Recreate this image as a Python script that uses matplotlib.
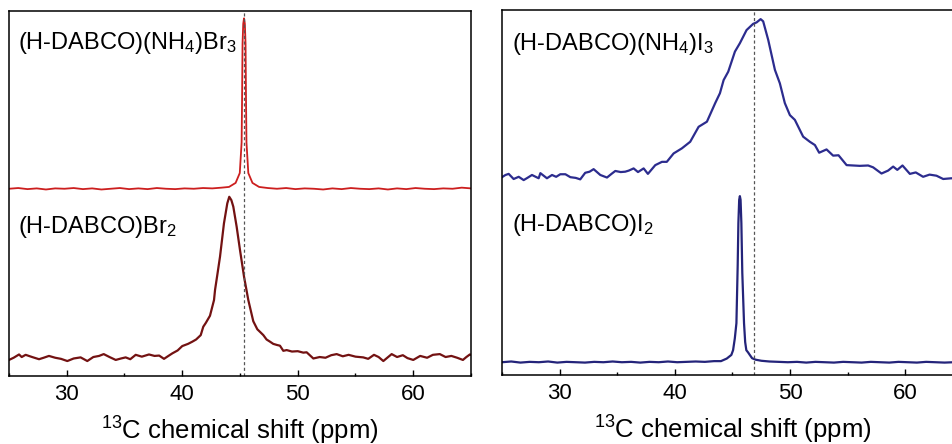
import matplotlib
matplotlib.use("Agg")
import matplotlib.pyplot as plt
from matplotlib.ticker import MultipleLocator

plt.rcParams["font.family"] = ["Liberation Sans", "DejaVu Sans"]
plt.rcParams["mathtext.fontset"] = "custom"
plt.rcParams["mathtext.rm"] = "Liberation Sans"
plt.rcParams["mathtext.it"] = "Liberation Sans"

# --- data (ppm, normalised intensity) ---
# (H-DABCO)(NH4)Br3
br3_x = [25.0, 25.8, 26.6, 27.4, 28.2, 29.0, 29.8, 30.6, 31.4, 32.2, 33.0, 33.8,
         34.6, 35.4, 36.2, 37.0, 37.8, 38.6, 39.4, 40.2, 41.0, 41.8, 42.6, 43.4,
         44.05, 44.62, 44.98, 45.14, 45.18, 45.22, 45.28, 45.35, 45.42, 45.48,
         45.52, 45.56, 45.72, 46.08, 46.65, 47.4, 48.2, 49.0, 49.8, 50.6, 51.4,
         52.2, 53.0, 53.8, 54.6, 55.4, 56.2, 57.0, 57.8, 58.6, 59.4, 60.2, 61.0,
         61.8, 62.6, 63.4, 64.2, 65.0]
br3_y = [0.513, 0.515, 0.512, 0.514, 0.511, 0.514, 0.513, 0.515, 0.512, 0.514,
         0.511, 0.513, 0.515, 0.512, 0.514, 0.512, 0.515, 0.513, 0.512, 0.514,
         0.513, 0.515, 0.514, 0.516, 0.518, 0.529, 0.556, 0.64, 0.76, 0.91,
         0.965, 0.98, 0.965, 0.91, 0.76, 0.64, 0.556, 0.529, 0.518, 0.515,
         0.513, 0.515, 0.512, 0.514, 0.513, 0.511, 0.514, 0.512, 0.515, 0.513,
         0.512, 0.514, 0.511, 0.514, 0.512, 0.515, 0.513, 0.512, 0.514, 0.513,
         0.516, 0.514]

# (H-DABCO)Br2
br2_x = [25.0, 25.4, 25.87, 26.1, 26.44, 27.0, 27.6, 28.0, 28.46, 29.0, 29.5,
         30.05, 30.6, 31.2, 31.78, 32.3, 32.8, 33.2, 33.7, 34.24, 34.7, 35.1,
         35.5, 35.97, 36.5, 37.12, 37.6, 38.0, 38.42, 38.8, 39.14, 39.6, 40.0,
         40.5, 40.87, 41.2, 41.6, 41.82, 42.03, 42.4, 42.75, 42.84, 43.05, 43.27,
         43.45, 43.61, 43.9, 44.07, 44.25, 44.42, 44.71, 45.0, 45.35, 45.72,
         46.15, 46.5, 46.73, 47.02, 47.3, 47.6, 47.88, 48.2, 48.46, 48.75, 49.04,
         49.5, 50.0, 50.48, 50.77, 51.35, 51.9, 52.4, 52.9, 53.37, 53.9, 54.4,
         55.0, 55.67, 56.1, 56.6, 57.0, 57.41, 58.13, 58.6, 59.1, 59.5, 60.0,
         60.6, 61.2, 61.7, 62.3, 62.8, 63.3, 63.8, 64.3, 64.6, 64.9, 65.0]
br2_y = [0.044, 0.050, 0.059, 0.052, 0.058, 0.052, 0.046, 0.050, 0.055, 0.050,
         0.047, 0.041, 0.048, 0.051, 0.041, 0.052, 0.055, 0.060, 0.052, 0.044,
         0.048, 0.051, 0.046, 0.058, 0.053, 0.059, 0.055, 0.056, 0.047, 0.055,
         0.062, 0.070, 0.082, 0.088, 0.094, 0.100, 0.112, 0.135, 0.145, 0.165,
         0.208, 0.236, 0.280, 0.327, 0.375, 0.418, 0.473, 0.491, 0.482, 0.464,
         0.409, 0.345, 0.272, 0.208, 0.150, 0.128, 0.121, 0.112, 0.100, 0.094,
         0.088, 0.085, 0.083, 0.069, 0.071, 0.067, 0.068, 0.064, 0.065, 0.048,
         0.052, 0.050, 0.057, 0.060, 0.054, 0.058, 0.053, 0.051, 0.047, 0.058,
         0.052, 0.041, 0.060, 0.052, 0.057, 0.049, 0.044, 0.055, 0.050, 0.058,
         0.060, 0.052, 0.055, 0.050, 0.044, 0.052, 0.059, 0.058]

# (H-DABCO)(NH4)I3
i3_x = [25.0, 25.3, 25.58, 26.01, 26.45, 26.88, 27.2, 27.6, 28.18, 28.33, 28.9,
        29.34, 29.7, 30.06, 30.5, 30.93, 31.4, 31.79, 32.22, 32.6, 32.95, 33.53,
        34.11, 34.5, 34.83, 35.3, 35.69, 36.0, 36.42, 36.8, 37.29, 37.66, 38.3,
        38.88, 39.3, 39.89, 40.61, 41.33, 42.06, 42.78, 43.5, 43.91, 44.23, 44.63,
        45.21, 45.64, 46.22, 46.79, 47.09, 47.44, 47.66, 48.1, 48.68, 49.11,
        49.54, 49.98, 50.41, 51.13, 51.71, 52.15, 52.52, 53.16, 53.73, 54.2,
        54.9, 56.05, 56.77, 57.2, 57.93, 58.5, 58.94, 59.3, 59.75, 60.39, 60.9,
        61.54, 62.1, 62.7, 63.28, 64.0, 64.5, 65.0]
i3_y = [0.542, 0.548, 0.551, 0.537, 0.543, 0.534, 0.540, 0.548, 0.539, 0.553,
        0.539, 0.548, 0.543, 0.550, 0.550, 0.542, 0.540, 0.536, 0.554, 0.557,
        0.564, 0.548, 0.541, 0.551, 0.559, 0.556, 0.557, 0.560, 0.566, 0.556,
        0.566, 0.551, 0.575, 0.584, 0.584, 0.607, 0.621, 0.639, 0.680, 0.694,
        0.745, 0.772, 0.808, 0.831, 0.886, 0.909, 0.945, 0.962, 0.966, 0.975,
        0.969, 0.918, 0.836, 0.799, 0.745, 0.712, 0.699, 0.653, 0.639, 0.630,
        0.609, 0.618, 0.601, 0.602, 0.575, 0.573, 0.574, 0.569, 0.552, 0.560,
        0.571, 0.562, 0.574, 0.551, 0.555, 0.543, 0.549, 0.546, 0.537, 0.539,
        0.536, 0.540]

# (H-DABCO)I2
i2_x = [25.0, 25.8, 26.6, 27.4, 28.2, 29.0, 29.8, 30.6, 31.4, 32.2, 33.0, 33.8,
        34.6, 35.4, 36.2, 37.0, 37.8, 38.6, 39.4, 40.2, 41.0, 41.8, 42.6, 43.4,
        44.0, 44.5, 44.9, 45.05, 45.2, 45.34, 45.45, 45.51, 45.58, 45.64, 45.7,
        45.77, 45.85, 46.0, 46.1, 46.2, 46.35, 46.5, 46.7, 47.0, 47.5, 48.2,
        49.0, 49.8, 50.6, 51.4, 52.2, 53.0, 53.8, 54.6, 55.4, 56.2, 57.0, 57.8,
        58.6, 59.4, 60.2, 61.0, 61.8, 62.6, 63.4, 64.2, 65.0]
i2_y = [0.035, 0.037, 0.034, 0.036, 0.035, 0.037, 0.034, 0.036, 0.035, 0.034,
        0.036, 0.035, 0.037, 0.035, 0.036, 0.034, 0.036, 0.035, 0.037, 0.035,
        0.036, 0.037, 0.036, 0.038, 0.038, 0.045, 0.055, 0.068, 0.100, 0.142,
        0.300, 0.416, 0.480, 0.490, 0.480, 0.416, 0.280, 0.142, 0.090, 0.068,
        0.062, 0.055, 0.046, 0.042, 0.039, 0.037, 0.036, 0.035, 0.036, 0.034,
        0.036, 0.035, 0.034, 0.036, 0.035, 0.034, 0.036, 0.035, 0.034, 0.036,
        0.035, 0.034, 0.036, 0.035, 0.034, 0.035, 0.035]

ref_left = 45.37
ref_right = 46.86

W, H = 953, 444
fig = plt.figure(figsize=(W / 100, H / 100), dpi=100)
ax1 = fig.add_axes([9 / W, (H - 376) / H, 462 / W, 365 / H])
ax2 = fig.add_axes([502 / W, (H - 375) / H, 461 / W, 365 / H])


def style(ax):
    ax.set_xlim(25, 65)
    ax.set_ylim(0, 1)
    ax.set_yticks([])
    ax.xaxis.set_major_locator(MultipleLocator(10))
    ax.xaxis.set_minor_locator(MultipleLocator(5))
    ax.tick_params(axis="x", which="major", direction="in", length=4.5, width=1.0,
                   labelsize=16, pad=6, top=False)
    ax.tick_params(axis="x", which="minor", direction="in", length=2.5, width=1.0,
                   top=False)
    for s in ax.spines.values():
        s.set_linewidth(1.1)
    ax.set_xlabel(r"$^{13}$C chemical shift (ppm)", fontsize=18.5, labelpad=7)


style(ax1)
style(ax2)

ax1.plot(br3_x, br3_y, color="#cc1f1f", lw=1.3)
ax1.plot(br2_x, br2_y, color="#731212", lw=1.6)
ax1.axvline(ref_left, color="#555555", lw=0.9, ls=(0, (2.5, 2)))
ax1.text(0.0195, 0.895, r"(H-DABCO)(NH$_4$)Br$_3$", transform=ax1.transAxes,
         fontsize=17, va="baseline", ha="left")
ax1.text(0.0195, 0.392, r"(H-DABCO)Br$_2$", transform=ax1.transAxes,
         fontsize=17, va="baseline", ha="left")

ax2.plot(i3_x, i3_y, color="#2c2c8e", lw=1.6)
ax2.plot(i2_x, i2_y, color="#24247a", lw=1.6)
ax2.axvline(ref_right, color="#555555", lw=0.9, ls=(0, (2.5, 2)))
ax2.text(0.021, 0.890, r"(H-DABCO)(NH$_4$)I$_3$", transform=ax2.transAxes,
         fontsize=17, va="baseline", ha="left")
ax2.text(0.021, 0.395, r"(H-DABCO)I$_2$", transform=ax2.transAxes,
         fontsize=17, va="baseline", ha="left")

fig.savefig("out.png", dpi=100)
